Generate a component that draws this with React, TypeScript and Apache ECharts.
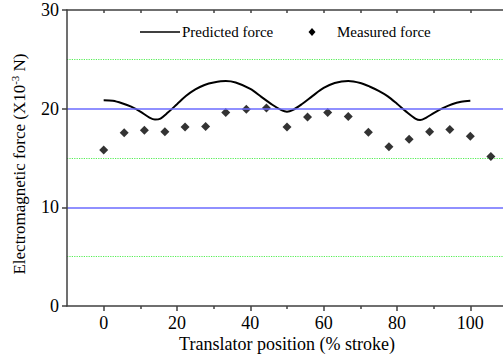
import React, { useEffect, useRef } from "react";
import * as echarts from "echarts";

const predictedX = [0, 2.5, 5, 7.5, 10, 12.5, 14, 15.5, 17.5, 20, 22.5, 25, 27.5, 30, 33.3, 36, 40, 43, 46, 48.5, 50, 51.5, 54, 57, 60, 63, 66.7, 70, 72.5, 75, 77.5, 80, 82.5, 85, 86.3, 88, 90, 92.5, 95, 97.5, 100];
const predictedY = [20.85, 20.8, 20.55, 20.2, 19.7, 19.1, 18.9, 19.0, 19.6, 20.45, 21.3, 21.95, 22.4, 22.65, 22.8, 22.65, 22.0, 21.2, 20.4, 19.85, 19.7, 19.85, 20.45, 21.3, 22.1, 22.6, 22.8, 22.6, 22.25, 21.8, 21.25, 20.5, 19.7, 19.0, 18.85, 19.1, 19.55, 20.05, 20.45, 20.7, 20.8];

const measuredX = [0, 5.6, 11.1, 16.7, 22.2, 27.8, 33.3, 38.9, 44.4, 50, 55.6, 61.1, 66.7, 72.2, 77.8, 83.3, 88.9, 94.4, 100, 105.6];
const measuredY = [15.8, 17.55, 17.8, 17.65, 18.15, 18.2, 19.6, 19.95, 20.06, 18.15, 19.15, 19.6, 19.2, 17.6, 16.15, 16.9, 17.65, 17.9, 17.2, 15.15];

const majorXTicks = [0, 20, 40, 60, 80, 100];
const minorXTicks = [10, 30, 50, 70, 90];
const allXTicks = [0, 10, 20, 30, 40, 50, 60, 70, 80, 90, 100];
const blueLineColors = ["rgba(0,0,0,0)", "#6b6bff", "#6b6bff", "rgba(0,0,0,0)"];
const greenLineColors = ["rgba(0,0,0,0)", "#55ee55", "rgba(0,0,0,0)", "#55ee55", "rgba(0,0,0,0)", "#55ee55", "rgba(0,0,0,0)"];
const legendNames = ["Predicted force", "Measured force"];
const xTitle = "Translator position (% stroke)";
const yTitle = "Electromagnetic force (X10{sup|-3} N)";

const FONT = "Liberation Serif";

export default function App() {
  const ref = useRef<HTMLDivElement>(null);
  useEffect(() => {
    if (!ref.current) return;
    const chart = echarts.init(ref.current, null, { renderer: "svg" });
    const axisStyle = () => ({ color: "#404040", width: 1.5 });
    const option: any = {
      animation: false,
      grid: { left: 67, right: 0, top: 10, bottom: 55 },
      graphic: [
        { type: "line", shape: { x1: 140, y1: 32, x2: 180, y2: 32 }, style: { stroke: "#000", lineWidth: 1.6 } },
        { type: "text", x: 182, y: 32, style: { text: legendNames[0], fontFamily: FONT, fontSize: 15, fill: "#000", verticalAlign: "middle" } },
        { type: "polygon", shape: { points: [[312, 28], [315.5, 32], [312, 36], [308.5, 32]] }, style: { fill: "#000" } },
        { type: "text", x: 337, y: 32, style: { text: legendNames[1], fontFamily: FONT, fontSize: 15, fill: "#000", verticalAlign: "middle" } },
        { type: "text", x: 287, y: 344, style: { text: xTitle, fontFamily: FONT, fontSize: 18, fill: "#000", align: "center", verticalAlign: "middle" } },
        {
          type: "text",
          x: 19,
          y: 164,
          rotation: Math.PI / 2,
          style: {
            text: yTitle,
            fontFamily: FONT,
            fontSize: 17,
            fill: "#000",
            align: "center",
            verticalAlign: "middle",
            lineHeight: 20,
            rich: { sup: { fontFamily: FONT, fontSize: 11, fill: "#000", verticalAlign: "top", lineHeight: 20 } },
          },
        },
      ],
      xAxis: [
        {
          type: "value",
          min: -10,
          max: 110,
          position: "bottom",
          z: 10,
          axisLine: { show: true, onZero: false, lineStyle: axisStyle() },
          axisTick: { show: true, customValues: majorXTicks, length: 5, lineStyle: axisStyle() },
          axisLabel: { customValues: majorXTicks, fontSize: 18, color: "#000", fontFamily: FONT },
          splitLine: { show: false },
        },
        {
          type: "value",
          min: -10,
          max: 110,
          position: "bottom",
          z: 10,
          axisLine: { show: false, onZero: false },
          axisTick: { show: true, customValues: minorXTicks, length: 3, lineStyle: axisStyle() },
          axisLabel: { show: false },
          splitLine: { show: false },
        },
        {
          type: "value",
          min: -10,
          max: 110,
          position: "top",
          z: 10,
          axisLine: { show: true, onZero: false, lineStyle: axisStyle() },
          axisTick: { show: true, inside: true, customValues: allXTicks, length: 3, lineStyle: axisStyle() },
          axisLabel: { show: false },
          splitLine: { show: false },
        },
      ],
      yAxis: [
        {
          type: "value",
          min: 0,
          max: 30,
          interval: 10,
          position: "left",
          z: 10,
          axisLine: { show: true, onZero: false, lineStyle: axisStyle() },
          axisTick: { show: true, lineStyle: axisStyle() },
          axisLabel: { fontSize: 18, color: "#000", fontFamily: FONT },
          splitLine: { show: true, lineStyle: { color: blueLineColors, width: 1.5, type: "solid" } },
        },
        {
          type: "value",
          min: 0,
          max: 30,
          interval: 5,
          position: "right",
          axisLine: { show: false, onZero: false },
          axisTick: { show: false },
          axisLabel: { show: false },
          splitLine: { show: true, lineStyle: { color: greenLineColors, width: 1.2, type: "dotted" } },
        },
      ],
      series: [
        {
          name: legendNames[0],
          type: "line",
          xAxisIndex: 0,
          yAxisIndex: 0,
          clip: false,
          data: predictedX.map((x, i) => [x, predictedY[i]]),
          smooth: 0.3,
          symbol: "none",
          lineStyle: { color: "#000", width: 2 },
          itemStyle: { color: "#000" },
        },
        {
          name: legendNames[1],
          type: "scatter",
          xAxisIndex: 0,
          yAxisIndex: 0,
          clip: false,
          data: measuredX.map((x, i) => [x, measuredY[i]]),
          symbol: "diamond",
          symbolSize: 9,
          itemStyle: { color: "#000" },
        },
      ],
    };
    chart.setOption(option);
    return () => chart.dispose();
  }, []);
  return (
    <div style={{ position: "fixed", left: 0, top: 0, width: 503, height: 361, overflow: "hidden", background: "#fff" }}>
      <div ref={ref} style={{ width: 507, height: 361 }} />
    </div>
  );
}
